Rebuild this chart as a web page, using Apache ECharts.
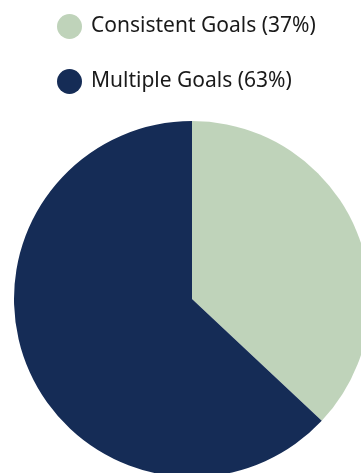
<!DOCTYPE html>
<html><head><meta charset="utf-8">
<script src="https://cdn.jsdelivr.net/npm/echarts@6/dist/echarts.min.js"></script>
<style>html,body{margin:0;padding:0;background:#fff}#c{width:361px;height:473px}</style>
</head><body><div id="c"></div>
<script>
const categories = ["Consistent Goals (37%)", "Multiple Goals (63%)"];
const values = [37, 63];
const colors = ["#BFD3BA", "#152C56"];

const chart = echarts.init(document.getElementById('c'), null, {renderer: 'canvas'});
chart.setOption({
  animation: false,
  color: colors,
  legend: {
    orient: 'vertical',
    left: 57,
    top: 14,
    padding: 0,
    icon: 'circle',
    itemWidth: 25,
    itemHeight: 25,
    itemGap: 30,
    textStyle: {fontFamily: 'Noto Sans', fontSize: 21, color: '#1a1a1a', padding: [0,0,0,4]},
    data: categories
  },
  series: [{
    type: 'pie',
    center: [192, 299],
    radius: 178,
    startAngle: 90,
    clockwise: true,
    label: {show: false},
    labelLine: {show: false},
    emphasis: {disabled: true},
    data: categories.map((n, i) => ({name: n, value: values[i]}))
  }]
});
</script></body></html>
